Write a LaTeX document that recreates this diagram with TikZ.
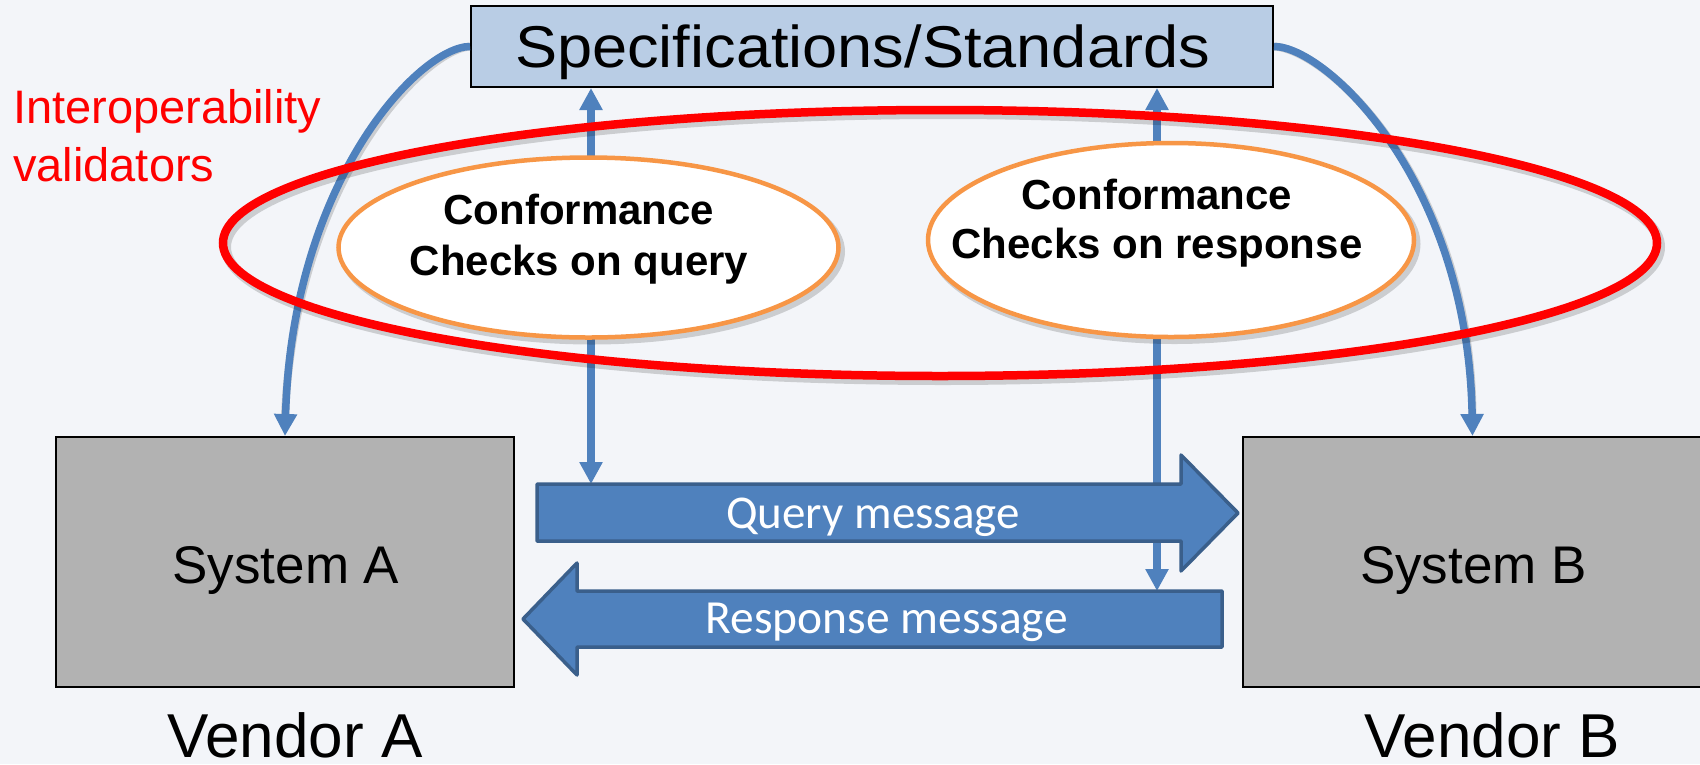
\documentclass[tikz,border=0pt]{standalone}
\usepackage{fontspec}
\setmainfont{Liberation Sans}
\newfontfamily\carlito{Carlito}
\usetikzlibrary{arrows.meta,shapes.geometric,calc}
\definecolor{bgc}{HTML}{F3F5F9}
\definecolor{specfill}{HTML}{B9CDE5}
\definecolor{sysfill}{HTML}{B2B2B2}
\definecolor{bluea}{HTML}{4F81BD}
\definecolor{blueb}{HTML}{3A5F8B}
\definecolor{orng}{HTML}{F79646}
\definecolor{redc}{HTML}{FF0000}
\tikzset{
  stemline/.style={draw=bluea, line width=7.5pt, -{Triangle[width=22pt,length=22pt]}},
  msgarrow/.style={fill=bluea, draw=blueb, line width=3.5pt, line join=round},
  msgtext/.style={text=white, font=\carlito\fontsize{#1}{50}\selectfont, inner sep=0pt, anchor=base},
  sysbox/.style={draw=black, line width=2pt, fill=sysfill, inner sep=0pt},
  oval/.style={ellipse, draw=orng, line width=4.5pt, fill=white, inner sep=0pt},
  ovaltext/.style={font=\bfseries\fontsize{42}{#1}\selectfont, align=center, inner sep=0pt, anchor=base},
  bigtext/.style={font=\fontsize{#1}{#1}\selectfont, inner sep=0pt, anchor=base},
  shade/.style={black, opacity=0.16},
}
\begin{document}
\begin{tikzpicture}[x=1pt,y=-1pt]
\fill[bgc] (0,0) rectangle (1700,764);
\useasboundingbox (0,0) rectangle (1700,764);

% boxes
\node[draw=black, line width=2pt, fill=specfill, minimum width=802pt, minimum height=81pt, inner sep=0pt] (spec) at (872,46.5) {};
\node[sysbox, minimum width=458pt, minimum height=250pt] (sysA) at (285,562) {};
\node[sysbox, minimum width=459pt, minimum height=250pt] (sysB) at (1472.5,562) {};

% coordinates on message arrows and stems
\coordinate (qtop) at (591,484);
\coordinate (rtop) at (1157,591);
\coordinate (ls) at (591,247);
\coordinate (rs) at (1157,240);

% shadows of connectors
\begin{scope}[shade, line width=8pt, shift={(3,3)}]
\draw (spec.west) .. controls (420,46.5) and (292,180) .. ($(sysA.north)+(0,-20)$);
\draw (spec.east) .. controls (1326,46.5) and (1468,180) .. ($(sysB.north)+(0,-20)$);
\draw (ls) -- ($(ls |- spec.south)+(0,20)$);
\draw (ls) -- ($(qtop)+(0,-20)$);
\draw (rs) -- ($(rs |- spec.south)+(0,20)$);
\draw (rs) -- ($(rtop)+(0,-20)$);
\end{scope}

% curved arcs from spec to systems
\draw[stemline] (spec.west) .. controls (420,46.5) and (292,180) .. (sysA.north);
\draw[stemline] (spec.east) .. controls (1326,46.5) and (1468,180) .. (sysB.north);

% vertical stems
\draw[stemline] (ls) -- (ls |- spec.south);
\draw[stemline] (ls) -- (qtop);
\draw[stemline] (rs) -- (rs |- spec.south);
\draw[stemline] (rs) -- (rtop);

% red ellipse (validators) with a soft shadow
\draw[shade, line width=10pt] (943,247) ellipse [x radius=717, y radius=133];
\draw[redc, line width=8.5pt] (940,243) ellipse [x radius=717, y radius=133];

% orange ovals
\fill[shade] (592,251.5) ellipse [x radius=253, y radius=93];
\fill[shade] (1174.5,244) ellipse [x radius=246, y radius=100];
\node[oval, minimum width=500pt, minimum height=180pt] (ovq) at (588.5,247.5) {};
\node[oval, minimum width=486pt, minimum height=194pt] (ovr) at (1171,240) {};
\node[ovaltext=51] (tq) at (579,275) {Conformance\\Checks on query};
\node[ovaltext=49] (tr) at (1157,258) {Conformance\\Checks on response};

% message arrows
\draw[msgarrow] (537,484) -- (1181,484) -- (1181,455) -- (1238,513) -- (1181,571) -- (1181,541) -- (537,541) -- cycle;
\draw[msgarrow] (1222,591) -- (577,591) -- (577,563) -- (523,619) -- (577,675) -- (577,647) -- (1222,647) -- cycle;
\node[msgtext=47] (qmsg) at (873,528) {Query message};
\node[msgtext=47.5] (rmsg) at (886.5,633) {Response message};

% texts
\node[bigtext=59] (spect) at (862.5,67) {\scalebox{1.07}[1]{Specifications/Standards}};
\node[text=redc, align=left, anchor=base west, inner sep=0pt, font=\fontsize{47}{58}\selectfont] (interop) at (13,181) {Interoperability\\validators};
\node[bigtext=53] (sysAt) at (286,583) {System A};
\node[bigtext=53] (sysBt) at (1473.5,583) {System B};
\node[bigtext=62] (vendA) at (295,757) {Vendor A};
\node[bigtext=62] (vendB) at (1492.5,757) {Vendor B};
\end{tikzpicture}
\end{document}
